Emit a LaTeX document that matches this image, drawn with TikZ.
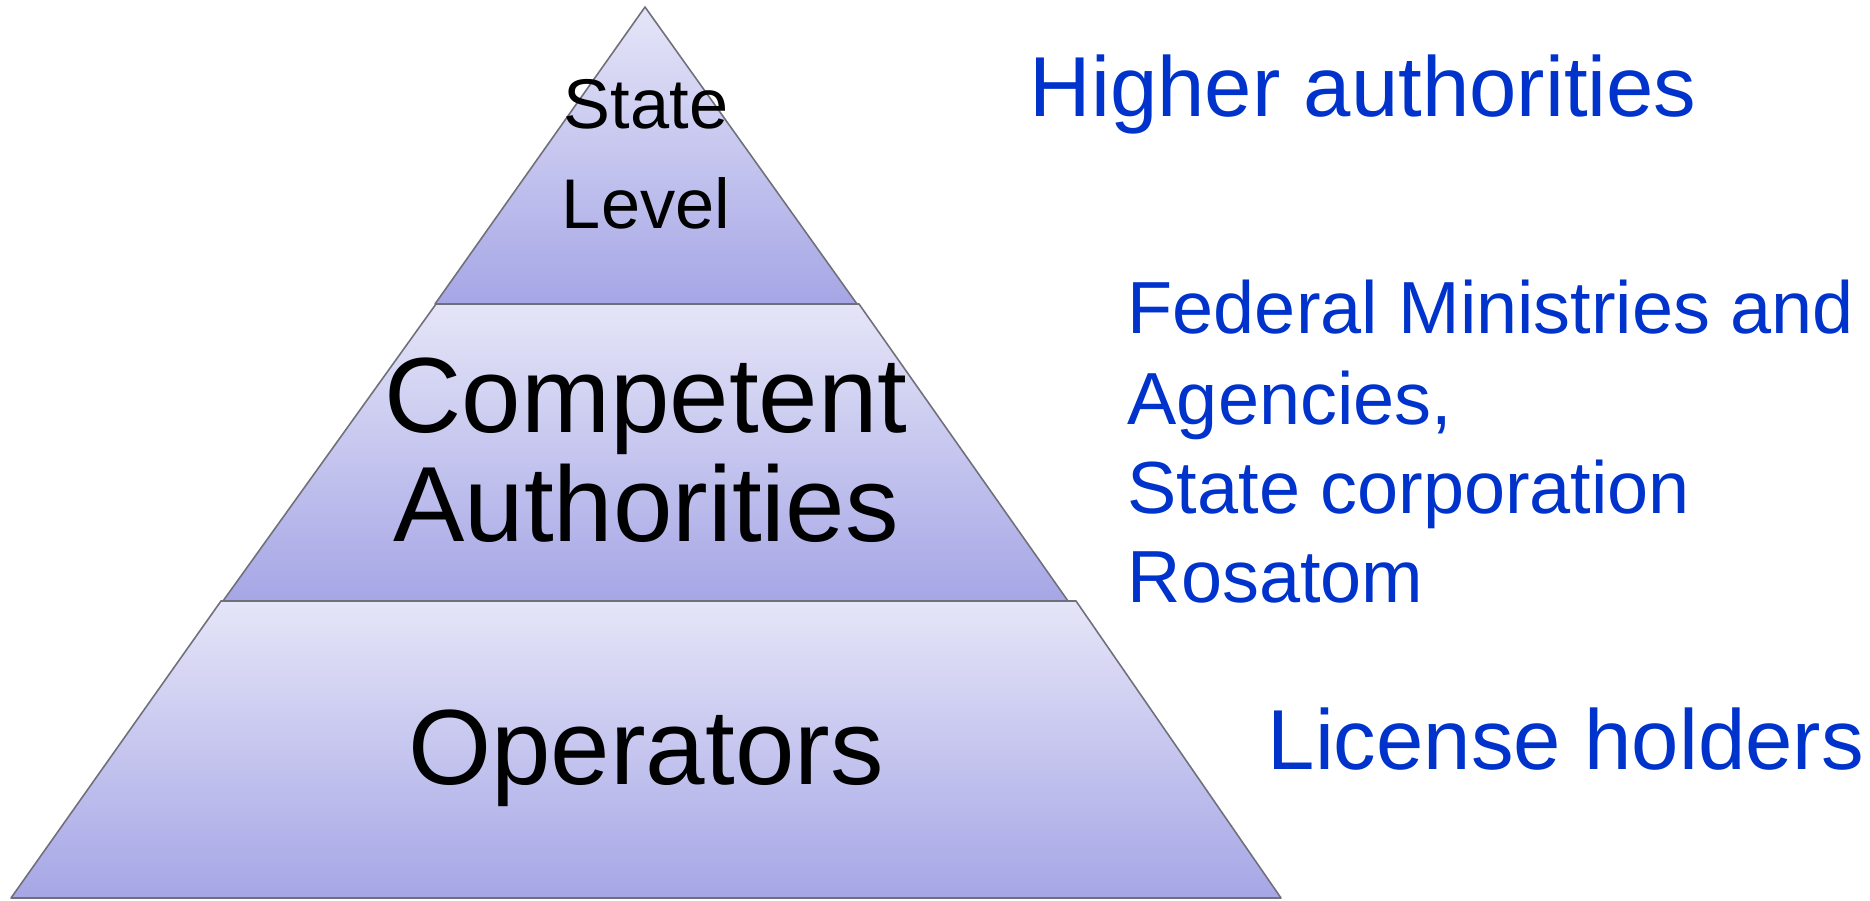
\documentclass[tikz,border=0pt]{standalone}
\usepackage{fontspec}
\setmainfont{Liberation Sans}
\usetikzlibrary{positioning}

\definecolor{tierTop}{RGB}{229,229,248}
\definecolor{tierBottom}{RGB}{166,166,230}
\definecolor{tierEdge}{RGB}{112,112,122}
\definecolor{sideBlue}{RGB}{0,51,204}

\begin{document}
\begin{tikzpicture}[x=0.01cm, y=-0.01cm,
  tier/.style={draw=tierEdge, line width=0.45pt, line join=round, top color=tierTop, bottom color=tierBottom},
  bigtxt/.style={anchor=base, inner sep=0pt, font=\fontsize{30.4}{36}\selectfont},
  smalltxt/.style={anchor=base, inner sep=0pt, font=\fontsize{20}{24}\selectfont},
  sidetxt/.style={anchor=base west, inner sep=0pt, text=sideBlue, font=\fontsize{24.2}{29}\selectfont},
  listtxt/.style={anchor=base west, inner sep=0pt, text=sideBlue, font=\fontsize{21}{25}\selectfont}]

  \useasboundingbox (0,0) rectangle (1870,900);

  % Pyramid tiers (top to bottom)
  \path[tier] (645,7) -- (857,304) -- (435,304) -- cycle;
  \path[tier] (436,304) -- (859,304) -- (1068,601) -- (223,601) -- cycle;
  \path[tier] (221,601) -- (1076,601) -- (1281,898) -- (11,898) -- cycle;

  % Labels inside the tiers
  \node[smalltxt] (state) at (646,128) {State};
  \node[smalltxt] (level) at (646,228) {Level};
  \node[bigtxt] (competent) at (646,432) {Competent};
  \node[bigtxt] (authorities) at (646,541) {Authorities};
  \node[bigtxt] (operators) at (646,784) {Operators};

  % Labels on the right
  \node[sidetxt] (higher) at (1029,116) {Higher authorities};
  \node[listtxt] (federal) at (1127,333) {Federal Ministries and};
  \node[listtxt] (agencies) at (1127,424) {Agencies,};
  \node[listtxt] (corp) at (1127,513) {State corporation};
  \node[listtxt] (rosatom) at (1127,602) {Rosatom};
  \node[sidetxt] (license) at (1267,769) {License holders};

\end{tikzpicture}
\end{document}
